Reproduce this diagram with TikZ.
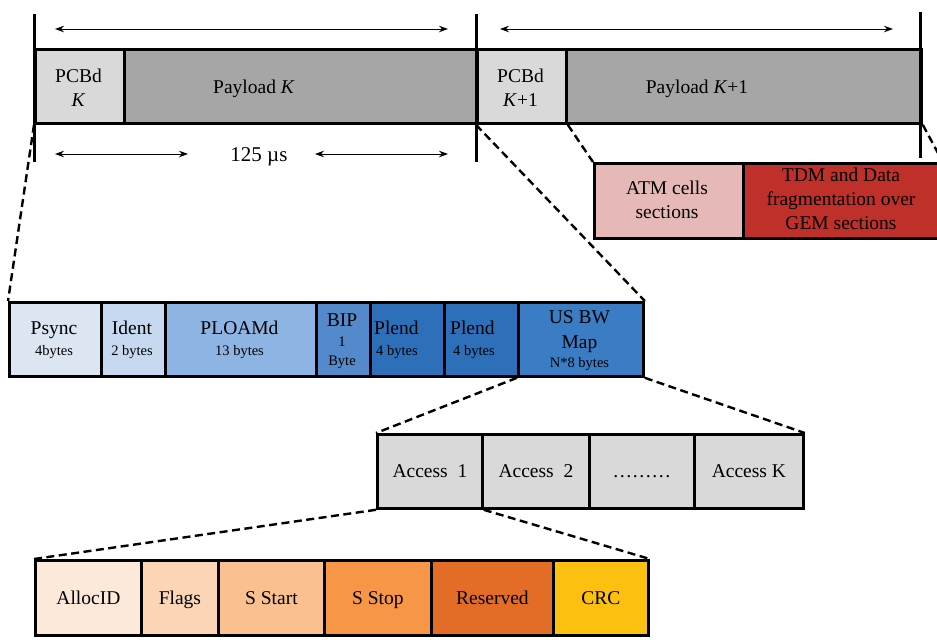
\documentclass[tikz,border=0pt]{standalone}
\usepackage{fontspec}
\setmainfont{Liberation Serif}
\usetikzlibrary{arrows.meta}

\definecolor{pcbdgray}{HTML}{D9D9D9}
\definecolor{paygray}{HTML}{A6A6A6}
\definecolor{atmpink}{HTML}{E6B9B8}
\definecolor{tdmred}{HTML}{C0302B}
\definecolor{psyncblue}{HTML}{DCE6F2}
\definecolor{identblue}{HTML}{C6D9F1}
\definecolor{ploamblue}{HTML}{8EB4E3}
\definecolor{bipblue}{HTML}{5489CC}
\definecolor{plendblue}{HTML}{2E6FB9}
\definecolor{usbwblue}{HTML}{3B7DC4}
\definecolor{accgray}{HTML}{D9D9D9}
\definecolor{allocc}{HTML}{FDE9D9}
\definecolor{flagsc}{HTML}{FBD5B5}
\definecolor{sstartc}{HTML}{FAC090}
\definecolor{sstopc}{HTML}{F79646}
\definecolor{reservedc}{HTML}{E36C26}
\definecolor{crcc}{HTML}{FCC010}

\begin{document}
\begin{tikzpicture}[x=1pt,y=-1pt,
  cell/.style={draw=black, line width=2.8pt, anchor=north west, inner sep=0pt},
  bigtxt/.style={font=\fontsize{19.5pt}{24pt}\selectfont, inner sep=0pt, align=center},
  smalltxt/.style={font=\fontsize{14.5pt}{17pt}\selectfont, inner sep=0pt, align=center},
  bigone/.style={bigtxt, text height=13pt, text depth=0pt},
  smallone/.style={smalltxt, text height=9.6pt, text depth=0pt},
  bar/.style={line width=3pt},
  dimarrow/.style={line width=1pt, {Stealth[length=9pt,width=6.5pt]}-{Stealth[length=9pt,width=6.5pt]}},
  zoomline/.style={line width=2.4pt, dash pattern=on 8pt off 4.5pt}]
\useasboundingbox (0,0) rectangle (937,641);

% ---- downstream frames K and K+1 ----
\node[cell, fill=pcbdgray, minimum width=89pt, minimum height=74pt] (pcbdK) at (34,48) {};
\node[cell, fill=paygray, minimum width=353pt, minimum height=74pt] (payK) at (123,48) {};
\node[cell, fill=pcbdgray, minimum width=89pt, minimum height=74pt] (pcbdK1) at (476,48) {};
\node[cell, fill=paygray, minimum width=355pt, minimum height=74pt] (payK1) at (565,48) {};

\node[bigtxt] (tpcbdK) at (78.5,88) {PCBd\\\textit{K}};
\node[bigone] (tpayK) at (254,87) {Payload \textit{K}};
\node[bigtxt] (tpcbdK1) at (520.5,88) {PCBd\\\textit{K}+1};
\node[bigone] (tpayK1) at (697,87) {Payload \textit{K}+1};

% frame boundary markers
\draw[bar] (34,14) -- (34,162);
\draw[bar] (476,14) -- (476,162);
\draw[bar] (920,12) -- (920,158);

% frame length arrows
\coordinate (aTl) at (55,29);  \coordinate (aTr) at (448,29);
\coordinate (bTl) at (500,29); \coordinate (bTr) at (893,29);
\coordinate (cLl) at (55,154); \coordinate (cLr) at (188,154);
\coordinate (cRl) at (315,154); \coordinate (cRr) at (448,154);
\draw[dimarrow] (aTl) -- (aTr);
\draw[dimarrow] (bTl) -- (bTr);
\draw[dimarrow] (cLl) -- (cLr);
\draw[dimarrow] (cRl) -- (cRr);
\node[font=\fontsize{21pt}{24pt}\selectfont, inner sep=0pt, text height=14pt, text depth=0pt] (period) at (259,154) {125 µs};

% ---- payload sections ----
\node[cell, fill=atmpink, minimum width=149pt, minimum height=75pt] (atm) at (593,162) {};
\node[cell, fill=tdmred, minimum width=198pt, minimum height=75pt] (tdm) at (742,162) {};
\node[bigtxt] (tatm) at (667,200) {ATM cells\\sections};
\node[bigtxt] (ttdm) at (841,199) {TDM and Data\\fragmentation over\\GEM sections};

% ---- PCBd fields ----
\node[cell, fill=psyncblue, minimum width=92pt, minimum height=74pt] (psync) at (8,301) {};
\node[cell, fill=identblue, minimum width=64pt, minimum height=74pt] (ident) at (100,301) {};
\node[cell, fill=ploamblue, minimum width=151pt, minimum height=74pt] (ploamd) at (164,301) {};
\node[cell, fill=bipblue, minimum width=54pt, minimum height=74pt] (bip) at (315,301) {};
\node[cell, fill=plendblue, minimum width=74pt, minimum height=74pt] (plendA) at (369,301) {};
\node[cell, fill=plendblue, minimum width=74pt, minimum height=74pt] (plendB) at (443,301) {};
\node[cell, fill=usbwblue, minimum width=125pt, minimum height=74pt] (usbw) at (517,301) {};

\node[bigone] (tpsync) at (54,328) {Psync};
\node[smallone] (tpsyncb) at (54,351) {4bytes};
\node[bigone] (tident) at (132,328) {Ident};
\node[smallone] (tidentb) at (132,351) {2 bytes};
\node[bigone] (tploamd) at (239.5,328) {PLOAMd};
\node[smallone] (tploamdb) at (239.5,351) {13 bytes};
\node[bigone] (tbip) at (342,320) {BIP};
\node[smallone] (tbipa) at (342,342) {1};
\node[smallone] (tbipb) at (342,361) {Byte};
\node[bigone, anchor=west] (tplendA) at (374,328) {Plend};
\node[smallone, anchor=west] (tplendAb) at (376,351) {4 bytes};
\node[bigone, anchor=west] (tplendB) at (450,328) {Plend};
\node[smallone, anchor=west] (tplendBb) at (453,351) {4 bytes};
\node[bigone] (tusbw) at (579.5,317) {US BW};
\node[bigone] (tusbwm) at (579.5,342) {Map};
\node[smallone] (tusbwb) at (579.5,363) {N*8 bytes};

% ---- upstream bandwidth map entries ----
\node[cell, fill=accgray, minimum width=105pt, minimum height=74pt] (acc1) at (376,433) {};
\node[cell, fill=accgray, minimum width=107pt, minimum height=74pt] (acc2) at (481,433) {};
\node[cell, fill=accgray, minimum width=105pt, minimum height=74pt] (accdots) at (588,433) {};
\node[cell, fill=accgray, minimum width=109pt, minimum height=74pt] (accK) at (693,433) {};
\node[bigone] at (acc1.center) {Access\ \ 1};
\node[bigone] at (acc2.center) {Access\ \ 2};
\node[bigtxt, anchor=base] at ([yshift=-6.5pt]accdots.center) {………};
\node[bigone] at (accK.center) {Access\ K};

% ---- allocation structure ----
\node[cell, fill=allocc, minimum width=106pt, minimum height=75pt] (alloc) at (34,559) {};
\node[cell, fill=flagsc, minimum width=77pt, minimum height=75pt] (flags) at (140,559) {};
\node[cell, fill=sstartc, minimum width=106pt, minimum height=75pt] (sstart) at (217,559) {};
\node[cell, fill=sstopc, minimum width=107pt, minimum height=75pt] (sstop) at (323,559) {};
\node[cell, fill=reservedc, minimum width=122pt, minimum height=75pt] (reserved) at (430,559) {};
\node[cell, fill=crcc, minimum width=95pt, minimum height=75pt] (crc) at (552,559) {};
\node[bigone] at (alloc.center) {AllocID};
\node[bigone] at (flags.center) {Flags};
\node[bigone] at (sstart.center) {S Start};
\node[bigone] at (sstop.center) {S Stop};
\node[bigone] at (reserved.center) {Reserved};
\node[bigone] at (crc.center) {CRC};

% ---- zoom-in guide lines ----
\draw[zoomline] (pcbdK.south west) -- (psync.north west);
\draw[zoomline] (pcbdK1.south west) -- (usbw.north east);
\draw[zoomline] (pcbdK1.south east) -- (atm.north west);
\draw[zoomline] (payK1.south east) -- (tdm.north east);
\draw[zoomline] (usbw.south west) -- (acc1.north west);
\draw[zoomline] (usbw.south east) -- (accK.north east);
\draw[zoomline] (acc1.south west) -- (alloc.north west);
\draw[zoomline] (acc1.south east) -- (crc.north east);
\end{tikzpicture}
\end{document}
